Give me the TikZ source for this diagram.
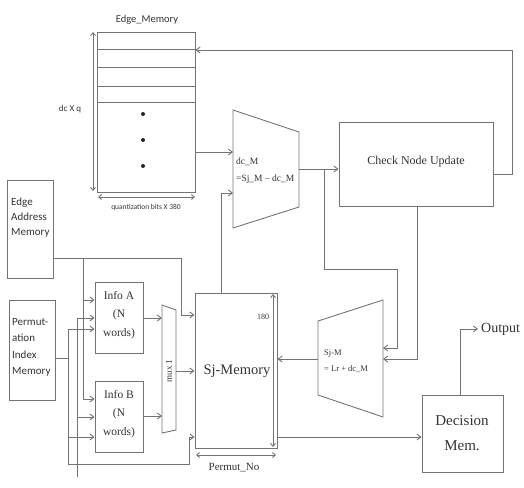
\documentclass[tikz,border=0pt]{standalone}
\usepackage{fontspec}
\setmainfont{Liberation Serif}
\newfontfamily\sansf{Carlito}
\usetikzlibrary{arrows.meta}
\begin{document}
\begin{tikzpicture}[x=1pt,y=-1pt,
  ln/.style={draw=black!55, line width=0.9pt},
  arr/.style={ln,-{Straight Barb[length=4pt,width=6pt]}},
  dbl/.style={ln,{Straight Barb[length=3pt,width=5pt]}-{Straight Barb[length=3pt,width=5pt]}},
  box/.style={draw=black!55, line width=0.9pt, inner sep=0pt},
  txt/.style={text=black!80, inner sep=0pt},
  stxt/.style={txt, font=\sansf}
]
\useasboundingbox (0,0) rectangle (524,487);

% ---------- boxes ----------
\node[box, minimum width=98pt, minimum height=160pt] (em) at (146,112) {};
\node[box, minimum width=154pt, minimum height=84pt] (cnu) at (416,164) {};
\node[box, minimum width=82pt, minimum height=155pt] (sj) at (236,370.5) {};
\node[box, minimum width=81pt, minimum height=77pt] (dec) at (462.5,433.5) {};
\node[box, minimum width=46pt, minimum height=98pt] (eam) at (30,229) {};
\node[box, minimum width=46pt, minimum height=100pt] (pim) at (32,350) {};
\node[box, minimum width=48pt, minimum height=71pt] (infoA) at (119,317.5) {};
\node[box, minimum width=48pt, minimum height=71pt] (infoB) at (119,416.5) {};

% Edge memory rows and dots
\draw[ln] (97,49) -- (195,49);
\draw[ln] (97,67) -- (195,67);
\draw[ln] (97,86) -- (195,86);
\draw[ln] (97,102) -- (195,102);
\fill[black!85] (143,114) circle (2pt);
\fill[black!85] (143,140) circle (2pt);
\fill[black!85] (143,166) circle (2pt);

% trapezoids
\draw[ln] (233,110) -- (299,132) -- (299,207) -- (233,228) -- cycle;
\draw[ln] (318,321) -- (383,300) -- (383,417) -- (318,395) -- cycle;
\draw[ln] (162,305) -- (176,310) -- (176,430) -- (162,433) -- cycle;

% ---------- texts ----------
\node[stxt, font=\sansf\fontsize{10.5}{12}\selectfont] (emt) at (147,20) {Edge\_Memory};
\node[stxt, font=\sansf\fontsize{9}{11}\selectfont] (dcq) at (70,109) {dc X q};
\node[stxt, font=\sansf\fontsize{7.5}{9}\selectfont] (qb) at (146,207) {quantization bits X 380};
\node[txt, font=\fontsize{12}{14}\selectfont] (cnut) at (416,162) {Check Node Update};
\node[txt, anchor=west, align=left, font=\fontsize{9.5}{17}\selectfont] (dct) at (236,170.5) {dc\_M\\=Sj\_M – dc\_M};
\node[txt, anchor=west, align=left, font=\fontsize{8.5}{16}\selectfont] (t2t) at (324,361) {Sj-M\\= Lr + dc\_M};
\node[txt, font=\fontsize{8}{10}\selectfont] (n180) at (263,317) {180};
\node[txt, font=\fontsize{14.5}{17}\selectfont] (sjt) at (237,371) {Sj-Memory};
\node[txt, font=\fontsize{11}{13}\selectfont] (pno) at (234,468) {Permut\_No};
\node[txt, align=center, font=\fontsize{15}{25}\selectfont] (dect) at (462,433) {Decision\\Mem.};
\node[txt, anchor=west, font=\fontsize{14}{16}\selectfont] (out) at (481,329) {Output};
\node[stxt, anchor=west, align=left, font=\sansf\fontsize{11}{15}\selectfont] (eamt) at (11,218) {Edge\\Address\\Memory};
\node[stxt, anchor=west, align=left, font=\sansf\fontsize{11}{16.3}\selectfont] (pimt) at (12,347.5) {Permut-\\ation\\Index\\Memory};
\node[txt, align=center, font=\fontsize{11.5}{18.5}\selectfont] (iat) at (119,315) {Info A\\(N\\words)};
\node[txt, align=center, font=\fontsize{11.5}{18.5}\selectfont] (ibt) at (119,414) {Info B\\(N\\words)};
\node[txt, rotate=90, font=\fontsize{9}{11}\selectfont] (muxt) at (169,371) {mux 1};

% ---------- dimension arrows ----------
\draw[dbl] (93,32) -- (93,191);
\draw[dbl] (98,197) -- (195,197);
\draw[dbl] (273,294) -- (273,447);
\draw[dbl] (196,455) -- (276,455);

% ---------- coordinates ----------
\coordinate (fbA) at (512,174);
\coordinate (fbB) at (512,50);
\coordinate (dcin1) at (233,152);
\coordinate (dcin2) at (233,193);
\coordinate (sjup) at (221,193);
\coordinate (dcout) at (299,169);
\coordinate (br1) at (324,169);
\coordinate (br2) at (324,269);
\coordinate (br3) at (397,269);
\coordinate (t2in1) at (383,348);
\coordinate (cb) at (417,359);
\coordinate (t2in2) at (383,359);
\coordinate (t2out) at (318,359);
\coordinate (sd) at (277,437);
\coordinate (oc) at (460,329);
\coordinate (ea1) at (181,258);
\coordinate (ea2) at (181,315);
\coordinate (eb) at (83,258);
\coordinate (eb1) at (83,300);
\coordinate (eb2) at (83,399);
\coordinate (c77t) at (77,318);
\coordinate (c77m) at (77,417);
\coordinate (c77b) at (77,477);
\coordinate (p1) at (68,358);
\coordinate (p0) at (68,329);
\coordinate (pb) at (68,437);
\coordinate (p2) at (68,464);
\coordinate (p3) at (189,464);
\coordinate (p4) at (189,437);
\coordinate (ma) at (162,318);
\coordinate (mb) at (162,416);
\coordinate (mo) at (176,371);

% ---------- connectors ----------
\draw[arr] (cnu.east |- fbA) -- (fbA) -- (fbB) -- (em.east |- fbB);
\draw[arr] (em.east |- dcin1) -- (dcin1);
\draw[arr] (sj.north -| sjup) -- (sjup) -- (dcin2);
\draw[arr] (dcout) -- (cnu.west |- dcout);
\draw[arr] (br1) -- (br2) -- (br3) -- (br3 |- t2in1) -- (t2in1);
\draw[arr] (cnu.south -| cb) -- (cb) -- (t2in2);
\draw[arr] (t2out) -- (sj.east |- t2out);
\draw[arr] (sj.east |- sd) -- (dec.west |- sd);
\draw[arr] (dec.north -| oc) -- (oc) -- ([xshift=-3pt]out.west);
\draw[arr] (eam.east |- ea1) -- (ea1) -- (ea2) -- (sj.west |- ea2);
\draw[arr] (eb) -- (eb2) -- (infoB.west |- eb2);
\draw[arr] (eb1) -- (infoA.west |- eb1);
\draw[ln] (c77b) -- (c77t);
\draw[arr] (c77t) -- (infoA.west |- c77t);
\draw[arr] (c77m) -- (infoB.west |- c77m);
\draw[ln] (pim.east |- p1) -- (p1);
\draw[arr] (p0) -- (infoA.west |- p0);
\draw[arr] (p0) -- (p2) -- (p3) -- (p4) -- (sj.west |- p4);
\draw[arr] (pb) -- (infoB.west |- pb);
\draw[arr] (infoA.east |- ma) -- (ma);
\draw[arr] (infoB.east |- mb) -- (mb);
\draw[arr] (mo) -- (sj.west |- mo);
\end{tikzpicture}
\end{document}
